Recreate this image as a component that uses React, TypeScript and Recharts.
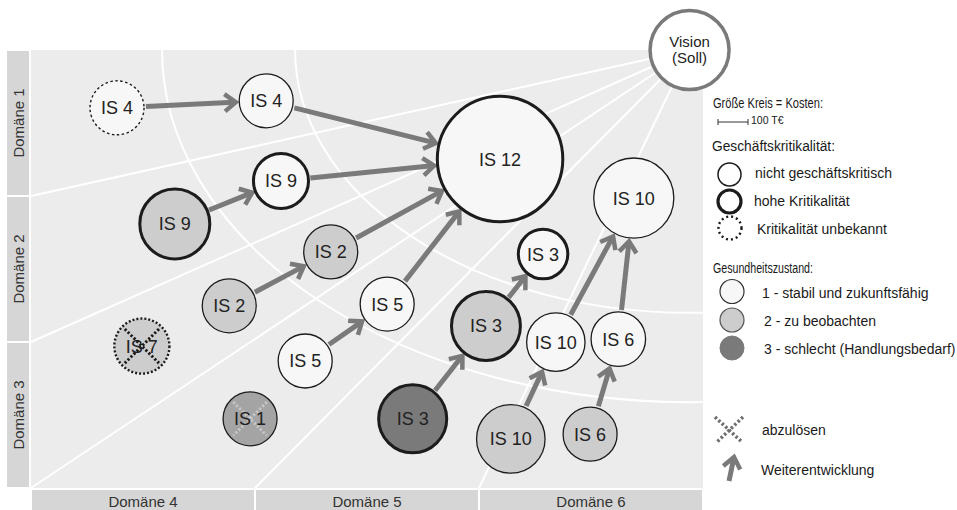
import React from 'react'
import {
  ScatterChart, Scatter, XAxis, YAxis, ZAxis,
  ReferenceArea, ReferenceLine, ReferenceDot,
} from 'recharts'

const W = 957
const H = 510
const PLOT_X = 31
const PLOT_Y = 50
const PLOT_W = 672
const PLOT_H = 438
const FONT = '"Liberation Sans", Arial, Helvetica, sans-serif'

// one entry per circle: x = time axis (0..100), y = domain axis (0..100, bottom to top)
const systems = ['IS 4', 'IS 4', 'IS 12', 'IS 9', 'IS 9', 'IS 2', 'IS 2', 'IS 5', 'IS 5', 'IS 7', 'IS 1', 'IS 3', 'IS 3', 'IS 3', 'IS 10', 'IS 10', 'IS 10', 'IS 6', 'IS 6']
const timeline = [12.8, 35.0, 69.8, 21.4, 37.2, 29.5, 44.6, 40.8, 53.0, 16.5, 32.6, 56.8, 67.7, 76.2, 71.4, 78.1, 89.7, 83.2, 87.4]
const domainPos = [86.8, 88.4, 75.1, 60.3, 70.1, 41.6, 53.9, 29.0, 42.0, 32.4, 15.8, 15.8, 37.0, 53.4, 11.2, 33.3, 66.2, 12.3, 34.0]
const costs = [100, 100, 540, 168, 104, 100, 100, 100, 100, 104, 100, 159, 163, 84, 161, 117, 220, 100, 102]
// 1 stabil, 2 zu beobachten, 3 schlecht
const health = [1, 1, 1, 2, 1, 2, 2, 1, 1, 2, 2.5, 3, 2, 1, 2, 1, 1, 2, 1]
const criticality = ['unknown', 'normal', 'high', 'high', 'high', 'normal', 'normal', 'normal', 'normal', 'unknown', 'normal', 'high', 'high', 'high', 'normal', 'normal', 'normal', 'normal', 'normal']
const toReplace = [false, false, false, false, false, false, false, false, false, true, true, false, false, false, false, false, false, false, false]

// Weiterentwicklung: index of source circle -> index of target circle
const arrowFrom = [0, 1, 3, 4, 5, 6, 7, 8, 11, 12, 14, 15, 17, 18]
const arrowTo = [1, 2, 4, 2, 6, 2, 8, 2, 12, 13, 15, 16, 18, 16]

const yearLabels = ['2023', '2024', '2030']
const yearPos = [8.9, 29.8, 76.1]

const leftDomains = ['Domäne 3', 'Domäne 2', 'Domäne 1']
const bottomDomains = ['Domäne 4', 'Domäne 5', 'Domäne 6']
const domainCenters = [16.67, 50, 83.33]

const vision = { x: 98, y: 100 }
const rayEndX = [0, 0, 0, 33.33, 66.67]
const rayEndY = [66.67, 33.33, 0, 0, 0]
const arcRx = [58.7, 78.5]
const arcRy = [60, 80.4]

// circle area ~ cost, 100 T€ -> radius 27px
const COST_MAX = 600
const R_AT_100 = 27
const areaFor = (cost: number) => Math.PI * R_AT_100 * R_AT_100 * cost / 100
const radiusFor = (cost: number) => R_AT_100 * Math.sqrt(cost / 100)

const bubbles = systems.map((name, i) => ({
  name,
  x: timeline[i],
  y: domainPos[i],
  cost: costs[i],
  health: health[i],
  crit: criticality[i],
  replace: toReplace[i],
}))

function healthFill(h: number) {
  const g: Record<number, number> = { 1: 247, 2: 205, 3: 122 }
  const lo = Math.floor(h)
  const hi = Math.ceil(h)
  const v = lo === hi ? g[lo] : g[lo] + (g[hi] - g[lo]) * (h - lo)
  const c = Math.round(v)
  return `rgb(${c},${c},${c})`
}

function Bubble(props: any) {
  const { cx, cy, payload } = props
  if (cx == null || cy == null) return null
  const r = props.size ? Math.sqrt(props.size / Math.PI) : radiusFor(payload.cost)
  const crit = payload.crit
  const strokeProps =
    crit === 'high'
      ? { strokeWidth: 3 }
      : crit === 'unknown'
        ? { strokeWidth: payload.replace ? 2.4 : 1.4, strokeDasharray: payload.replace ? '2 2' : '2.5 2.5' }
        : { strokeWidth: 1.3 }
  const d = r * 0.62
  const xColor = payload.health > 2 ? 'rgba(240,240,240,0.45)' : '#1a1a1a'
  return (
    <g>
      <circle cx={cx} cy={cy} r={r} fill={healthFill(payload.health)} stroke="#1c1c1c" {...strokeProps} />
      {payload.replace && payload.health > 2 && (
        <g stroke={xColor} strokeWidth={3} strokeDasharray="2.2 2">
          <line x1={cx - d} y1={cy - d} x2={cx + d} y2={cy + d} />
          <line x1={cx + d} y1={cy - d} x2={cx - d} y2={cy + d} />
        </g>
      )}
      <text x={cx} y={cy} dy="0.36em" textAnchor="middle" fontFamily={FONT} fontSize={18} fill="#222">
        {payload.name}
      </text>
      {payload.replace && payload.health <= 2 && (
        <g stroke={xColor} strokeWidth={3} strokeDasharray="2.2 2">
          <line x1={cx - d} y1={cy - d} x2={cx + d} y2={cy + d} />
          <line x1={cx + d} y1={cy - d} x2={cx - d} y2={cy + d} />
        </g>
      )}
    </g>
  )
}

function ArrowShape({ x1, y1, x2, y2, r1, r2 }: any) {
  const dx = x2 - x1
  const dy = y2 - y1
  const len = Math.hypot(dx, dy) || 1
  const ux = dx / len
  const uy = dy / len
  const sx = x1 + ux * (r1 + 2)
  const sy = y1 + uy * (r1 + 2)
  const tx = x2 - ux * (r2 + 3.5)
  const ty = y2 - uy * (r2 + 3.5)
  const L = 14
  const a = (38 * Math.PI) / 180
  const bx = -ux
  const by = -uy
  const ax = bx * Math.cos(a) - by * Math.sin(a)
  const ay = bx * Math.sin(a) + by * Math.cos(a)
  const cx = bx * Math.cos(-a) - by * Math.sin(-a)
  const cy = bx * Math.sin(-a) + by * Math.cos(-a)
  return (
    <g stroke="#7a7a7a" fill="none">
      <line x1={sx} y1={sy} x2={tx - ux * 2} y2={ty - uy * 2} strokeWidth={5} />
      <polyline
        points={`${tx + ax * L},${ty + ay * L} ${tx},${ty} ${tx + cx * L},${ty + cy * L}`}
        strokeWidth={4.5}
        strokeLinejoin="miter"
      />
    </g>
  )
}

function Arcs({ cx, cy }: any) {
  if (cx == null || cy == null) return null
  return (
    <g>
      <defs>
        <clipPath id="plot-clip-arcs">
          <rect x={PLOT_X} y={PLOT_Y} width={PLOT_W} height={PLOT_H} />
        </clipPath>
      </defs>
      <g clipPath="url(#plot-clip-arcs)">
        {arcRx.map((rx, i) => (
          <ellipse key={i} cx={cx} cy={cy} rx={(rx * PLOT_W) / 100} ry={(arcRy[i] * PLOT_H) / 100}
            fill="none" stroke="#ffffff" strokeWidth={2} />
        ))}
      </g>
    </g>
  )
}

function VisionShape({ cx, cy }: any) {
  if (cx == null || cy == null) return null
  return (
    <g>
      <circle cx={cx} cy={cy} r={39.5} fill="#ffffff" stroke="#7a7a7a" strokeWidth={3.5} />
      <text x={cx} y={cy - 3} textAnchor="middle" fontFamily={FONT} fontSize={15} fill="#222">Vision</text>
      <text x={cx} y={cy + 12.5} textAnchor="middle" fontFamily={FONT} fontSize={15} fill="#222">(Soll)</text>
    </g>
  )
}

function YearTick({ x, payload }: any) {
  const i = yearPos.indexOf(payload.value)
  return (
    <text x={x} y={45.5} textAnchor="middle" fontFamily={FONT} fontSize={15} fill="#222">
      {yearLabels[i]}
    </text>
  )
}

function LeftDomainTick({ y, payload }: any) {
  const i = domainCenters.indexOf(payload.value)
  const h = PLOT_H / 3
  return (
    <g>
      <rect x={7} y={y - h / 2 + 1} width={22} height={h - 2} fill="#d6d6d6" />
      <text x={18.5} y={y} transform={`rotate(-90 18.5 ${y})`} textAnchor="middle" dy="0.35em"
        fontFamily={FONT} fontSize={15} fill="#333">
        {leftDomains[i]}
      </text>
    </g>
  )
}

function BottomDomainTick({ x, payload }: any) {
  const i = domainCenters.indexOf(payload.value)
  const w = PLOT_W / 3
  return (
    <g>
      <rect x={x - w / 2 + 1} y={490} width={w - 2} height={22} fill="#d6d6d6" />
      <text x={x} y={507} textAnchor="middle" fontFamily={FONT} fontSize={15} fill="#333">
        {bottomDomains[i]}
      </text>
    </g>
  )
}

function LegendPanel() {
  const t = { fontFamily: FONT, fontSize: 14, fill: '#1a1a1a' }
  return (
    <svg width={W} height={H} style={{ position: 'absolute', left: 0, top: 0, pointerEvents: 'none' }}>
      <text x={713} y={108} {...t} textLength={110} lengthAdjust="spacingAndGlyphs">Größe Kreis = Kosten:</text>
      <g stroke="#333" strokeWidth={1}>
        <line x1={718} y1={122} x2={748} y2={122} />
        <line x1={718} y1={119} x2={718} y2={125} />
        <line x1={748} y1={119} x2={748} y2={125} />
      </g>
      <text x={751} y={124} fontFamily={FONT} fontSize={10.5} fill="#1a1a1a">100 T€</text>

      <text x={712} y={150.5} {...t} textLength={123} lengthAdjust="spacingAndGlyphs">Geschäftskritikalität:</text>
      <circle cx={729.5} cy={174.5} r={11.5} fill="#fff" stroke="#1c1c1c" strokeWidth={1.5} />
      <text x={755} y={177.5} {...t}>nicht geschäftskritisch</text>
      <circle cx={729.5} cy={201.5} r={11.5} fill="#fff" stroke="#1c1c1c" strokeWidth={3.2} />
      <text x={754} y={206} {...t}>hohe Kritikalität</text>
      <circle cx={730} cy={228} r={11.5} fill="#fff" stroke="#1c1c1c" strokeWidth={2.4} strokeDasharray="2 3" />
      <text x={757} y={234} {...t}>Kritikalität unbekannt</text>

      <text x={713} y={272.5} {...t} textLength={100} lengthAdjust="spacingAndGlyphs">Gesundheitszustand:</text>
      <circle cx={732} cy={291.5} r={12} fill={healthFill(1)} stroke="#333" strokeWidth={1.2} />
      <text x={762} y={298} {...t}>1 - stabil und zukunftsfähig</text>
      <circle cx={732} cy={320} r={12} fill={healthFill(2)} stroke="#555" strokeWidth={1.2} />
      <text x={764} y={326} {...t}>2 - zu beobachten</text>
      <circle cx={732} cy={348} r={12} fill={healthFill(3)} stroke="#7a7a7a" strokeWidth={1} />
      <text x={764} y={354} {...t}>3 - schlecht (Handlungsbedarf)</text>

      <g stroke="#6f6f6f" strokeWidth={3.5} strokeDasharray="2.5 2.2">
        <line x1={715} y1={417} x2={742} y2={442} />
        <line x1={743} y1={417} x2={716} y2={443} />
      </g>
      <text x={762} y={435} {...t}>abzulösen</text>
      <ArrowShape x1={729} y1={481} x2={734} y2={457} r1={-2} r2={-3.5} />
      <text x={761} y={475} {...t}>Weiterentwicklung</text>
    </svg>
  )
}

export default function App() {
  return (
    <div style={{ position: 'absolute', left: 0, top: 0, width: W, height: H, background: '#fff', overflow: 'hidden' }}>
      <ScatterChart width={W} height={H} margin={{ top: 20, right: 254, bottom: 0, left: 7 }}>
        <XAxis dataKey="x" type="number" domain={[0, 100]} allowDataOverflow ticks={domainCenters}
          tick={<BottomDomainTick />} axisLine={false} tickLine={false} interval={0} height={22} />
        <XAxis xAxisId="years" orientation="top" type="number" domain={[0, 100]} allowDataOverflow ticks={yearPos}
          tick={<YearTick />} axisLine={false} tickLine={false} interval={0} height={30} />
        <YAxis dataKey="y" type="number" domain={[0, 100]} allowDataOverflow ticks={domainCenters}
          tick={<LeftDomainTick />} axisLine={false} tickLine={false} interval={0} width={24} />
        <ZAxis dataKey="cost" type="number" domain={[0, COST_MAX]} range={[0, areaFor(COST_MAX)]} />

        <ReferenceArea x1={0} x2={100} y1={0} y2={100} fill="#ececec" fillOpacity={1} stroke="none" zIndex={-200} />
        {rayEndX.map((ex, i) => (
          <ReferenceLine key={`ray-${i}`} segment={[{ x: vision.x, y: vision.y }, { x: ex, y: rayEndY[i] }]}
            stroke="#ffffff" strokeWidth={2} zIndex={-150} />
        ))}
        <ReferenceDot x={vision.x} y={vision.y} ifOverflow="visible" shape={(p: any) => <Arcs {...p} />} zIndex={-150} />

        {arrowFrom.map((from, i) => {
          const to = arrowTo[i]
          return (
            <ReferenceLine key={`arrow-${i}`}
              segment={[{ x: timeline[from], y: domainPos[from] }, { x: timeline[to], y: domainPos[to] }]}
              zIndex={550}
              shape={(p: any) => <ArrowShape {...p} r1={radiusFor(costs[from])} r2={radiusFor(costs[to])} />} />
          )
        })}

        <Scatter data={bubbles} shape={<Bubble />} isAnimationActive={false} />

        <ReferenceDot x={vision.x} y={vision.y} ifOverflow="visible" shape={(p: any) => <VisionShape {...p} />} zIndex={700} />
      </ScatterChart>
      <LegendPanel />
    </div>
  )
}
